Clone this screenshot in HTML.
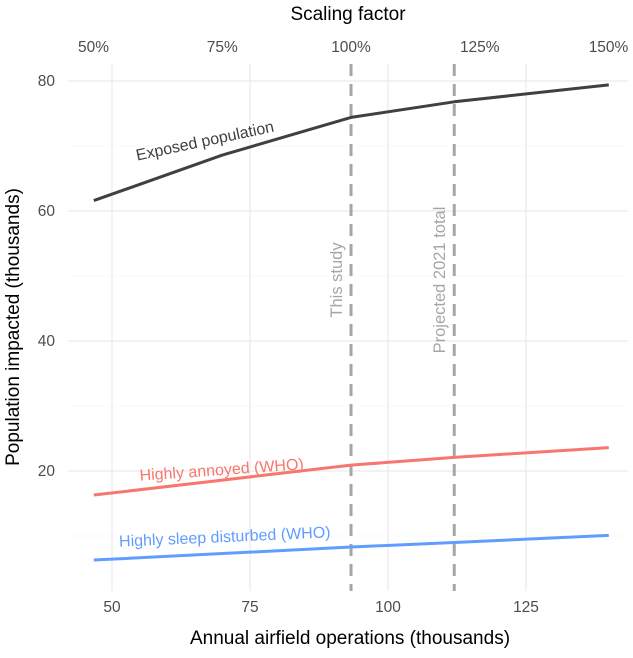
<!DOCTYPE html>
<html><head><meta charset="utf-8"><style>
body{margin:0;background:#fff;font-family:"Liberation Sans",sans-serif}
svg text{font-family:"Liberation Sans",sans-serif}
</style></head><body>
<svg id="c" width="633" height="653"></svg>
<script>
const ops=[46.7,70,93.3,112,140];
const exposed=[61.6,68.6,74.4,76.8,79.4];
const annoyed=[16.3,18.6,20.9,22.1,23.6];
const sleep=[6.3,7.3,8.3,9.0,10.1];
const xTicks=[50,75,100,125];
const yTicks=[20,40,60,80];
const topTicks=[0.5,0.75,1,1.25,1.5];
const topLabels=["50%","75%","100%","125%","150%"];
const base=93.3;
const vlines=[93.3,112];
const vlabels=["This study","Projected 2021 total"];
const X=v=>112+(v-50)*5.52, Y=v=>601-v*6.5;
const svg=document.getElementById('c'),NS='http://www.w3.org/2000/svg';
function mk(t,a,p){const e=document.createElementNS(NS,t);for(const k in a)e.setAttribute(k,a[k]);(p||svg).appendChild(e);return e;}
const L=68,R=628,T=64,B=591;
for(let v=10;v<=80;v+=20){const g=mk('line',{x1:L,x2:R,y1:Y(v),y2:Y(v),stroke:'#f2f2f2','stroke-width':0.6});}
yTicks.forEach(v=>{const g=mk('line',{x1:L,x2:R,y1:Y(v),y2:Y(v),stroke:'#e6e6e6','stroke-width':1.1});
const t=mk('text',{x:55,y:Y(v)+5,'text-anchor':'end','font-size':15.5,fill:'#4d4d4d'});t.textContent=v;});
xTicks.forEach(v=>{const g=mk('line',{x1:X(v),x2:X(v),y1:T,y2:B,stroke:'#e6e6e6','stroke-width':1.1});
const t=mk('text',{x:X(v),y:612,'text-anchor':'middle','font-size':15.5,fill:'#4d4d4d'});t.textContent=v;});
topTicks.forEach((v,i)=>{const t=mk('text',{x:X(v*base),y:52,'text-anchor':'middle','font-size':15.5,fill:'#4d4d4d'});t.textContent=topLabels[i];});
vlines.forEach((v,i)=>{const l=mk('line',{x1:X(v),x2:X(v),y1:T,y2:B,stroke:'#a6a6a6','stroke-width':3,'stroke-dasharray':'12,8'});
const t=mk('text',{transform:`translate(${X(v)-9},280) rotate(-90)`,'text-anchor':'middle','font-size':16.5,fill:'#a6a6a6'});t.textContent=vlabels[i];});
function line(d,col,name){const p=mk('polyline',{points:ops.map((x,i)=>X(x)+','+Y(d[i])).join(' '),fill:'none',stroke:col,'stroke-width':3,'stroke-linejoin':'round'});}
line(exposed,'#404040','exposed-line');line(annoyed,'#f8766d','annoyed-line');line(sleep,'#619cff','sleep-line');
function lab(s,x,y,r,col,name){const t=mk('text',{transform:`translate(${x},${y}) rotate(${r})`,'text-anchor':'middle','font-size':16,fill:col});t.textContent=s;}
lab('Exposed population',206,146,-12,'#404040','exposed-label');
lab('Highly annoyed (WHO)',222,475,-4,'#f8766d','annoyed-label');
lab('Highly sleep disturbed (WHO)',225,542,-2.5,'#619cff','sleep-label');
let t=mk('text',{x:350,y:644,'text-anchor':'middle','font-size':19,fill:'#000'});t.textContent='Annual airfield operations (thousands)';
t=mk('text',{x:348,y:20,'text-anchor':'middle','font-size':19,fill:'#000'});t.textContent='Scaling factor';
t=mk('text',{transform:'translate(19,327) rotate(-90)','text-anchor':'middle','font-size':19,fill:'#000'});t.textContent='Population impacted (thousands)';
</script>
</body></html>
